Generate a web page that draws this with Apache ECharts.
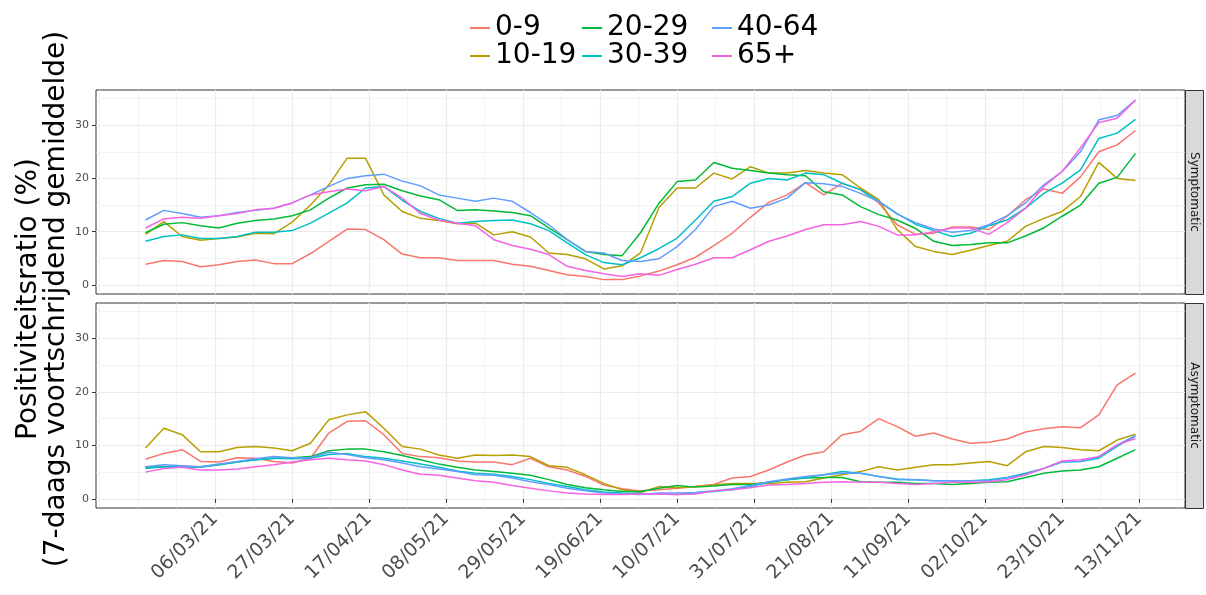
<!DOCTYPE html>
<html>
<head>
<meta charset="utf-8">
<script src="https://cdn.jsdelivr.net/npm/echarts@6/dist/echarts.min.js"></script>
<style>html,body{margin:0;padding:0;background:#fff}#c{width:1206px;height:595px}</style>
</head>
<body>
<div id="c"></div>
<script>
// ---- data (one point every 5 days) ----
const dates = ['2021-02-15','2021-02-20','2021-02-25','2021-03-02','2021-03-07','2021-03-12','2021-03-17','2021-03-22','2021-03-27','2021-04-01','2021-04-06',
 '2021-04-11','2021-04-16','2021-04-21','2021-04-26','2021-05-01','2021-05-06','2021-05-11','2021-05-16','2021-05-21','2021-05-26','2021-05-31',
 '2021-06-05','2021-06-10','2021-06-15','2021-06-20','2021-06-25','2021-06-30','2021-07-05','2021-07-10','2021-07-15','2021-07-20','2021-07-25',
 '2021-07-30','2021-08-04','2021-08-09','2021-08-14','2021-08-19','2021-08-24','2021-08-29','2021-09-03','2021-09-08','2021-09-13','2021-09-18',
 '2021-09-23','2021-09-28','2021-10-03','2021-10-08','2021-10-13','2021-10-18','2021-10-23','2021-10-28','2021-11-02','2021-11-07','2021-11-12'];

const groups = ['0-9','10-19','20-29','30-39','40-64','65+'];
const panels = ['Symptomatic','Asymptomatic'];

// Symptomatic
const sym09 = [3.9,4.6,4.4,3.4,3.8,4.4,4.7,4.0,4.0,5.9,8.2,
 10.5,10.4,8.5,5.8,5.1,5.1,4.6,4.6,4.6,3.9,3.5,
 2.7,1.9,1.6,1.0,1.0,1.7,2.6,3.8,5.2,7.4,9.7,
 12.7,15.5,16.9,19.2,16.9,19.1,17.9,15.4,11.3,9.5,9.7,
 10.9,10.9,10.4,12.9,16.0,18.0,17.2,20.3,25.0,26.3,29.0];
const sym1019 = [9.5,11.9,9.1,8.4,8.7,9.0,9.7,9.6,11.8,15.0,18.8,
 23.8,23.8,16.9,13.8,12.5,12.1,11.5,11.6,9.4,10.0,9.0,
 6.0,5.7,4.9,3.0,3.6,6.0,14.5,18.2,18.2,21.0,19.9,
 22.2,21.0,21.0,21.5,21.0,20.7,18.2,16.0,10.4,7.2,6.3,
 5.7,6.5,7.4,8.2,11.0,12.5,13.8,16.6,23.0,20.0,19.6];
const sym2029 = [9.8,11.4,11.7,11.1,10.7,11.6,12.1,12.4,13.0,14.1,16.3,
 18.2,18.8,18.9,17.7,16.7,16.0,14.0,14.1,13.9,13.6,13.0,
 10.7,8.5,6.3,5.7,5.5,9.8,15.3,19.4,19.7,23.0,21.9,
 21.5,21.0,20.7,20.5,17.5,16.9,14.7,13.2,12.2,10.6,8.2,
 7.4,7.6,7.9,7.9,9.2,10.7,12.9,15.0,19.1,20.2,24.7];
const sym3039 = [8.2,9.1,9.4,8.7,8.7,9.1,9.9,9.9,10.2,11.6,13.5,
 15.4,18.2,18.5,15.9,13.8,12.5,11.6,11.9,12.1,12.2,11.5,
 10.2,7.9,5.7,4.2,3.8,5.1,6.8,8.8,12.2,15.7,16.6,
 19.1,20.0,19.7,21.0,20.7,19.1,17.9,15.7,13.4,11.4,10.2,
 9.1,9.7,11.1,12.2,14.4,17.2,19.1,21.6,27.5,28.5,31.1];
const sym4064 = [12.2,14.0,13.4,12.7,13.0,13.6,14.0,14.4,15.4,16.9,18.5,
 20.0,20.5,20.8,19.5,18.6,16.9,16.3,15.7,16.3,15.7,13.6,
 11.3,8.5,6.3,6.0,4.6,4.4,4.9,7.2,10.4,14.7,15.7,
 14.4,15.0,16.3,19.2,19.0,18.5,17.2,15.7,13.3,11.7,10.5,
 9.9,10.2,11.3,13.0,15.4,18.8,21.3,25.0,31.0,31.8,34.7];
const sym65 = [10.7,12.4,12.7,12.5,13.0,13.4,14.1,14.4,15.4,16.9,17.5,
 18.0,17.7,18.5,16.3,13.4,12.2,11.6,11.1,8.5,7.4,6.7,
 5.7,3.5,2.7,2.1,1.6,2.1,1.8,2.9,3.9,5.1,5.1,
 6.6,8.2,9.2,10.4,11.3,11.3,11.9,11.0,9.4,9.4,10.0,
 10.7,10.7,9.5,11.7,14.4,18.5,21.3,25.7,30.5,31.3,34.7];

// Asymptomatic
const asy09 = [7.4,8.5,9.2,7.0,6.9,7.7,7.6,7.0,6.7,7.6,12.3,
 14.5,14.6,12.0,8.5,7.9,7.7,7.1,6.9,6.9,6.4,7.6,
 6.0,5.4,4.2,2.6,1.9,1.5,1.7,2.0,2.3,2.7,3.9,
 4.2,5.4,6.9,8.2,8.8,12.0,12.6,15.0,13.5,11.7,12.3,
 11.2,10.4,10.6,11.2,12.5,13.1,13.5,13.3,15.7,21.3,23.5];
const asy1019 = [9.5,13.2,12.0,8.8,8.8,9.6,9.8,9.5,9.0,10.4,14.8,
 15.7,16.3,13.2,9.8,9.3,8.2,7.6,8.2,8.1,8.2,7.9,
 6.2,5.9,4.5,2.9,1.7,1.2,2.3,2.1,2.3,2.6,2.9,
 2.9,2.9,3.1,3.2,3.9,4.5,5.1,6.0,5.4,5.9,6.4,
 6.4,6.7,7.0,6.2,8.8,9.8,9.6,9.2,9.0,11.0,12.1];
const asy2029 = [5.9,6.0,6.0,6.0,6.4,6.9,7.3,7.6,7.7,7.9,9.0,
 9.3,9.3,8.8,8.1,7.3,6.5,5.9,5.4,5.1,4.8,4.4,
 3.6,2.7,2.1,1.7,1.4,1.4,2.0,2.5,2.2,2.4,2.7,
 2.7,3.1,3.6,3.9,4.0,4.0,3.2,3.1,3.1,2.9,2.9,
 2.7,2.9,3.1,3.2,4.0,4.8,5.2,5.4,6.0,7.6,9.2];
const asy3039 = [5.7,6.0,6.0,5.9,6.4,6.9,7.3,7.6,7.5,7.6,8.3,
 8.5,7.9,7.6,7.1,6.5,5.9,5.2,4.8,4.6,4.2,3.6,
 2.9,2.3,1.7,1.3,1.1,1.0,0.9,0.8,1.1,1.4,1.7,
 2.3,3.1,3.6,4.0,4.5,5.1,4.8,4.2,3.7,3.6,3.4,
 3.4,3.4,3.6,4.0,4.8,5.7,6.9,7.0,7.6,9.8,11.8];
const asy4064 = [6.0,6.4,6.2,6.0,6.5,7.0,7.5,7.9,7.7,7.7,8.7,
 8.3,7.7,7.3,6.7,6.0,5.6,5.1,4.5,4.4,3.9,3.2,
 2.7,2.0,1.5,1.1,0.9,0.8,1.1,1.1,1.2,1.5,1.9,
 2.5,3.2,3.7,4.2,4.5,4.8,4.8,4.2,3.6,3.6,3.4,
 3.4,3.4,3.4,3.9,4.5,5.7,7.0,7.0,7.9,10.1,11.8];
const asy65 = [5.0,5.7,5.9,5.4,5.4,5.6,6.0,6.4,6.9,7.3,7.6,
 7.3,7.1,6.4,5.4,4.6,4.4,3.9,3.4,3.1,2.5,2.0,
 1.5,1.1,0.9,0.8,0.8,0.9,0.9,0.8,0.9,1.5,1.7,
 2.1,2.6,2.7,2.9,3.1,3.2,3.1,3.1,2.9,2.7,2.9,
 3.1,3.1,3.2,3.6,4.5,5.7,7.1,7.3,7.9,10.1,11.3];

const xTickLabels = ['06/03/21','27/03/21','17/04/21','08/05/21','29/05/21','19/06/21','10/07/21',
 '31/07/21','21/08/21','11/09/21','02/10/21','23/10/21','13/11/21'];
const yTicks = [0, 10, 20, 30];

// ---- helpers / styling ----
const colors = ['#F8766D','#B79F00','#00BA38','#00BFC4','#619CFF','#F564E3'];
const FONT = 'DejaVu Sans';
const DAY = 86400000;
const ts = s => Date.parse(s + 'T00:00:00Z');
const labelTs = xTickLabels.map(l => { const p = l.split('/'); return Date.UTC(2000 + +p[2], +p[1] - 1, +p[0]); });
const labelMap = {}; labelTs.forEach((t, i) => labelMap[t] = xTickLabels[i]);
const step = labelTs[1] - labelTs[0];
const minorTs = [labelTs[0] - step / 2 - step / 2 * 0].concat([]);
const minorX = [];
for (let t = labelTs[0] - step / 2 * 3; t <= labelTs[labelTs.length - 1] + step / 2; t += step / 2) {
  if (!labelMap[t]) minorX.push(t);
}
const span = ts(dates[dates.length - 1]) - ts(dates[0]);
const xMin = ts(dates[0]) - span * 0.05, xMax = ts(dates[dates.length - 1]) + span * 0.05;
const yMin = -1.7, yMax = 36.6;
const yMinor = [5, 15, 25, 35];

const gridTop = [90, 303], gridH = [204, 205];
const gridLeft = 96, gridRight = 21;

function xAxisDef(g, major, labels) {
  return {
    type: 'value', gridIndex: g, min: xMin, max: xMax,
    axisLine: { show: false },
    axisTick: { show: labels, customValues: major ? labelTs : minorX, length: 4, lineStyle: { color: '#333333', width: 1 } },
    axisLabel: { show: labels, customValues: major ? labelTs : minorX, rotate: 45, margin: 8, fontSize: 19, fontFamily: FONT, color: '#4D4D4D',
      formatter: v => labelMap[v] || '' },
    splitLine: { show: true, lineStyle: { color: '#EBEBEB', width: major ? 1.2 : 0.6 } }
  };
}
function yAxisDef(g, major) {
  return {
    type: 'value', gridIndex: g, min: yMin, max: yMax,
    axisLine: { show: false },
    axisTick: { show: major, customValues: major ? yTicks : yMinor, length: 4, lineStyle: { color: '#333333', width: 1 } },
    axisLabel: { show: major, customValues: major ? yTicks : yMinor, margin: 7, fontSize: 11, fontFamily: FONT, color: '#4D4D4D' },
    splitLine: { show: true, lineStyle: { color: '#EBEBEB', width: major ? 1.2 : 0.6 } }
  };
}

const symData = [sym09, sym1019, sym2029, sym3039, sym4064, sym65];
const asyData = [asy09, asy1019, asy2029, asy3039, asy4064, asy65];
const series = [];
[symData, asyData].forEach((set, p) => {
  set.forEach((vals, i) => {
    series.push({
      type: 'line', name: groups[i], xAxisIndex: p * 2, yAxisIndex: p * 2,
      data: vals.map((v, k) => [ts(dates[k]), v]),
      showSymbol: false, symbol: 'none', smooth: false,
      lineStyle: { color: colors[i], width: 1.5 }, itemStyle: { color: colors[i] },
      emphasis: { disabled: true }, z: 3 + i
    });
  });
});

function legendCol(left, names) {
  return {
    orient: 'vertical', left: left, top: 14, padding: 0, itemGap: 0,
    data: names, icon: 'rect', itemWidth: 20, itemHeight: 2,
    textStyle: { fontSize: 28, fontFamily: FONT, color: '#000', lineHeight: 27 },
    selectedMode: false
  };
}

const graphics = [
  { type: 'text', x: 43, y: 299, rotation: Math.PI / 2,
    style: { text: 'Positiviteitsratio (%)\n(7-daags voortschrijdend gemiddelde)', font: '28px "DejaVu Sans"',
      fill: '#000', textAlign: 'center', textVerticalAlign: 'middle', lineHeight: 28 } }
];
panels.forEach((name, p) => {
  graphics.push({ type: 'rect', shape: { x: 1185.5, y: gridTop[p] + 0.5, width: 18, height: gridH[p] },
    style: { fill: '#D9D9D9', stroke: '#333333', lineWidth: 1 } });
  graphics.push({ type: 'text', x: 1194.5, y: gridTop[p] + gridH[p] / 2, rotation: -Math.PI / 2,
    style: { text: name, font: '12px "DejaVu Sans"', fill: '#1A1A1A', textAlign: 'center', textVerticalAlign: 'middle' } });
});

const chart = echarts.init(document.getElementById('c'), null, { renderer: 'canvas' });
chart.setOption({
  animation: false,
  backgroundColor: '#ffffff',
  legend: [legendCol(470, ['0-9', '10-19']), legendCol(582, ['20-29', '30-39']), legendCol(712, ['40-64', '65+'])],
  grid: [0, 1].map(p => ({ left: gridLeft, right: gridRight, top: gridTop[p], height: gridH[p],
    show: true, borderColor: '#333333', borderWidth: 1, backgroundColor: '#fff', outerBoundsMode: 'none', containLabel: false })),
  xAxis: [xAxisDef(0, true, false), xAxisDef(0, false, false), xAxisDef(1, true, true), xAxisDef(1, false, false)],
  yAxis: [yAxisDef(0, true), yAxisDef(0, false), yAxisDef(1, true), yAxisDef(1, false)],
  series: series,
  graphic: graphics
});
</script>
</body>
</html>
